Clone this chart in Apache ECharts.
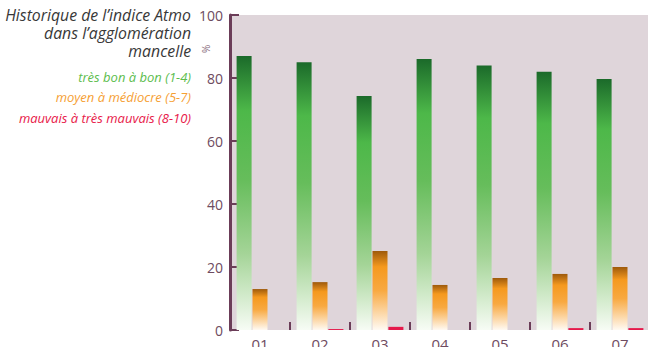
<!DOCTYPE html>
<html><head><meta charset="utf-8">
<script src="https://cdn.jsdelivr.net/npm/echarts@6/dist/echarts.min.js"></script>
<style>html,body{margin:0;padding:0;background:#fff}#c{width:648px;height:347px}</style>
</head><body><div id="c"></div>
<script>
var categories = ['01','02','03','04','05','06','07'];
var bonValues = [87, 85, 74.3, 86, 84, 82, 79.7];
var moyenValues = [13, 15.2, 25.1, 14.3, 16.5, 17.8, 20];
var mauvaisValues = [0, 0.3, 1, 0, 0, 0.6, 0.6];
var yTicks = [0, 20, 40, 60, 80, 100];
var titleLines = ['Historique de l’indice Atmo', 'dans l’agglomération', 'mancelle'];
var legendLabels = ['très bon à bon (1-4)', 'moyen à médiocre (5-7)', 'mauvais à très mauvais (8-10)'];

var axisColor = '#6b3d58';
var labelColor = '#6e4b60';
var chart = echarts.init(document.getElementById('c'), null, {renderer: 'svg'});
function grad(stops){return new echarts.graphic.LinearGradient(0,0,0,1,stops.map(function(s){return {offset:s[0],color:s[1]};}));}
var greenGrad = grad([[0,'#1b6a2a'],[0.2,'#4db849'],[0.45,'#66bd5b'],[0.72,'#a4d497'],[1,'#f7fcf5']]);
var orangeGrad = grad([[0,'#9e5a0b'],[0.2,'#f5991e'],[0.5,'#f8a941'],[1,'#fffaf3']]);
var legendColors = ['#5cbd4d','#f6a034','#e8194a'];

var graphics = [];
titleLines.forEach(function(t,i){
  graphics.push({type:'text', right: 648-191, top: 7+i*18, style:{text:t, font:'italic 15.8px "Open Sans"', fill:'#383838', textAlign:'right'}});
});
legendLabels.forEach(function(t,i){
  graphics.push({type:'text', right: 648-191, top: 70+i*20.5, style:{text:t, font:'italic 13px "Open Sans"', fill:legendColors[i], textAlign:'right'}});
});
graphics.push({type:'text', x:206, y:49, rotation:-Math.PI/2, style:{text:'%', font:'10px "Open Sans"', fill:'#8a7080', textAlign:'center', textVerticalAlign:'middle'}});

chart.setOption({
  animation:false,
  grid:{left:230, right:-2, top:15, bottom:17, show:true, backgroundColor:'#dfd5da', borderWidth:0, containLabel:false, outerBoundsMode:'none'},
  xAxis:{type:'category', data:categories,
    axisLine:{show:false},
    axisTick:{show:true, inside:true, length:8, lineStyle:{color:axisColor, width:2}},
    axisLabel:{color:labelColor, fontSize:15, fontFamily:'Open Sans', margin:6}},
  yAxis:{type:'value', min:0, max:100, interval:20,
    splitLine:{show:false},
    axisLine:{show:true, lineStyle:{color:axisColor, width:3}},
    axisTick:{show:true, inside:true, length:9, lineStyle:{color:axisColor, width:2}},
    axisLabel:{color:labelColor, fontSize:14, fontFamily:'Open Sans', margin:7,
      formatter:function(v){return yTicks.indexOf(v)>=0?String(v):'';}}},
  series:[
    {type:'bar', data:bonValues, barWidth:15, barGap:'6%', itemStyle:{color:greenGrad}},
    {type:'bar', data:moyenValues, barWidth:15, barGap:'6%', itemStyle:{color:orangeGrad}},
    {type:'bar', data:mauvaisValues, barWidth:15, barGap:'6%', itemStyle:{color:'#e5194b'}}
  ],
  graphic:graphics
});
</script></body></html>
